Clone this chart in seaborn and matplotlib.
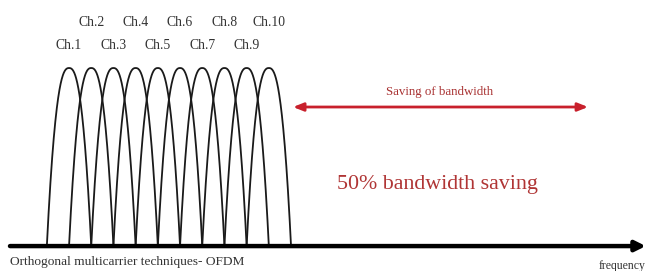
import numpy as np
import pandas as pd
import matplotlib
matplotlib.use("Agg")
import matplotlib.pyplot as plt
import seaborn as sns

# ---- data ----
channels = ["Ch.1", "Ch.2", "Ch.3", "Ch.4", "Ch.5", "Ch.6", "Ch.7", "Ch.8", "Ch.9", "Ch.10"]
centers = [1, 2, 3, 4, 5, 6, 7, 8, 9, 10]
half_width = 1.0
peak = 1.0
saving_start = 11.09
saving_end = 24.38
saving_label = "Saving of bandwidth"
saving_note = "50% bandwidth saving"
left_caption = "Orthogonal multicarrier techniques- OFDM"
axis_label = "frequency"

sns.set_theme(style="white")
plt.rcParams["font.family"] = ["Liberation Serif", "DejaVu Serif"]

rows = []
for name, c in zip(channels, centers):
    u = np.linspace(-1, 1, 201)
    for v in u:
        rows.append({"channel": name, "x": c + v * half_width,
                     "y": peak * (1 - np.abs(v) ** 2.5)})
df = pd.DataFrame(rows)

fig = plt.figure(figsize=(6.48, 2.71), dpi=100)
ax = fig.add_axes([0, 0, 1, 1])
sns.lineplot(data=df, x="x", y="y", hue="channel", palette=["#1a1a1a"] * len(channels),
             legend=False, ax=ax, linewidth=1.3, sort=False, estimator=None)

ax.set_xlim(-2.11, 27.08)
ax.set_ylim(-0.140, 1.382)
ax.axis("off")

# frequency axis
ax.annotate("", xy=(26.98, 0), xytext=(-1.66, 0),
            arrowprops=dict(arrowstyle="-|>,head_length=0.5,head_width=0.25",
                            color="black", lw=3.2, shrinkA=0, shrinkB=0))

# channel labels
for i, (name, c) in enumerate(zip(channels, centers)):
    yy = 1.129 if i % 2 == 0 else 1.253
    ax.text(c, yy, name, ha="center", va="center", fontsize=9.8, color="#333333")

# saving arrow
red = "#c8202c"
ax.annotate("", xy=(saving_end, 0.781), xytext=(saving_start, 0.781),
            arrowprops=dict(arrowstyle="<|-|>,head_length=0.5,head_width=0.2",
                            color=red, lw=2.0, shrinkA=0, shrinkB=0))
ax.text(17.71, 0.865, saving_label, ha="center", va="center", fontsize=9.3, color="#a83030")
ax.text(17.58, 0.343, saving_note, ha="center", va="center", fontsize=15.8, color="#b03535")

ax.text(-1.66, -0.092, left_caption, ha="left", va="center", fontsize=9.6, color="#333333")
ax.text(26.95, -0.112, axis_label, ha="right", va="center", fontsize=8.5, color="#333333")

fig.savefig("out.png", dpi=100)
